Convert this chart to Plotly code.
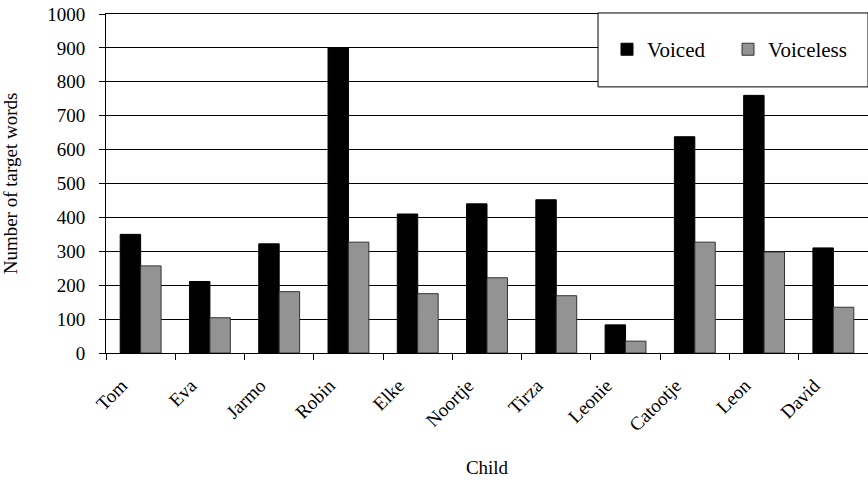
import plotly.graph_objects as go

children = ["Tom", "Eva", "Jarmo", "Robin", "Elke", "Noortje", "Tirza", "Leonie", "Catootje", "Leon", "David"]
voiced = [350, 211, 322, 900, 410, 440, 452, 83, 638, 760, 310]
voiceless = [257, 104, 181, 327, 175, 222, 169, 35, 327, 298, 135]

FONT = "Liberation Serif"

fig = go.Figure()
fig.add_trace(go.Bar(x=children, y=voiced, name="Voiced",
                     marker=dict(color="black", line=dict(color="black", width=1))))
fig.add_trace(go.Bar(x=children, y=voiceless, name="Voiceless",
                     marker=dict(color="#939393", line=dict(color="#333333", width=1))))

fig.update_layout(
    width=868, height=484,
    margin=dict(l=106, r=0, t=14, b=131, autoexpand=False),
    paper_bgcolor="white", plot_bgcolor="white",
    barmode="group", bargap=0.41, bargroupgap=0,
    font=dict(family=FONT, size=19, color="black"),
    showlegend=True,
    legend=dict(orientation="h", x=0.6575, xanchor="left", y=0.895, yanchor="middle",
                bgcolor="rgba(0,0,0,0)", borderwidth=0,
                font=dict(family=FONT, size=21, color="black"),
                entrywidth=76, itemwidth=30),
    shapes=[dict(type="rect", xref="paper", yref="paper", x0=0.6457, x1=1.0,
                 y0=0.785, y1=1.003, fillcolor="white", line=dict(color="black", width=1),
                 layer="above")],
)
fig.update_xaxes(
    title=dict(text="Child", font=dict(family=FONT, size=19), standoff=26),
    tickangle=-45, tickson="boundaries", ticks="outside", ticklen=6,
    tickcolor="black", showline=True, linecolor="black", linewidth=1, mirror=True,
    tickfont=dict(family=FONT, size=19), showgrid=False, automargin=False,
    ticklabelstandoff=13, ticklabelshift=-19, ticklabeloverflow="allow",
)
fig.update_yaxes(
    title=dict(text="Number of target words", font=dict(family=FONT, size=19), standoff=25),
    range=[0, 1000], dtick=100, ticks="outside", ticklen=6, tickcolor="black",
    showline=True, linecolor="black", linewidth=1,
    showgrid=True, gridcolor="black", gridwidth=1,
    tickfont=dict(family=FONT, size=19), zeroline=False, automargin=False,
    ticklabelstandoff=10, ticklabeloverflow="allow",
)

fig.write_html("out.html", post_script="document.body.style.margin='0';",
               config={"displayModeBar": False})
